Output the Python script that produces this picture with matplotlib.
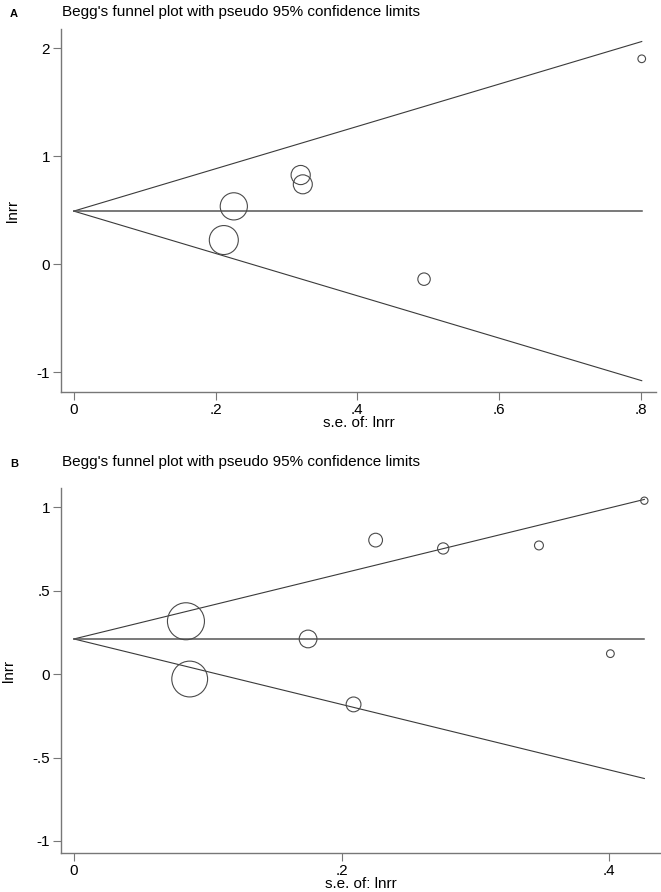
import matplotlib
matplotlib.use("Agg")
import matplotlib.pyplot as plt
import numpy as np

plt.rcParams['font.family'] = ['Liberation Sans', 'DejaVu Sans']

# Panel A: standard errors and log risk ratios
se_a = [0.2116, 0.2257, 0.320, 0.323, 0.494, 0.801]
lnrr_a = [0.222, 0.534, 0.824, 0.738, -0.14, 1.90]
pooled_a = 0.49

# Panel B
se_b = [0.0837, 0.0865, 0.175, 0.209, 0.2255, 0.276, 0.3476, 0.401, 0.4264]
lnrr_b = [0.316, -0.03, 0.21, -0.182, 0.802, 0.752, 0.77, 0.122, 1.038]
pooled_b = 0.21

title = "Begg's funnel plot with pseudo 95% confidence limits"

fig = plt.figure(figsize=(6.61, 8.92), dpi=100)


def funnel(ax, se, y, pooled, rmax, xlim, ylim, xticks, xlabels, yticks, ylabels):
    se = np.array(se)
    y = np.array(y)
    smax = se.max()
    line_c = '#3a3a3a'
    xs = np.array([0, smax])
    ax.plot(xs, pooled + 1.96 * xs, color=line_c, lw=0.8)
    ax.plot(xs, pooled - 1.96 * xs, color=line_c, lw=0.8)
    ax.plot(xs, [pooled, pooled], color='#555555', lw=1.1)
    # marker area proportional to weight 1/se^2 (Stata style)
    w = 1 / se ** 2
    r_px = rmax * np.sqrt(w / w.max())
    d_pt = 2 * r_px * 72 / 100
    ax.scatter(se, y, s=d_pt ** 2, facecolors='none', edgecolors='#4a4a4a',
               linewidths=0.8, zorder=3)
    ax.set_xlim(*xlim)
    ax.set_ylim(*ylim)
    ax.set_xticks(xticks)
    ax.set_xticklabels(xlabels)
    ax.set_yticks(yticks)
    ax.set_yticklabels(ylabels)
    for s in ['top', 'right']:
        ax.spines[s].set_visible(False)
    for s in ['left', 'bottom']:
        ax.spines[s].set_color('#777777')
        ax.spines[s].set_linewidth(1.0)
    ax.tick_params(direction='out', length=6, width=0.8, color='#777777',
                   labelsize=11, pad=2)
    ax.set_xlabel('s.e. of: lnrr', fontsize=11, labelpad=-1)
    ax.set_ylabel('lnrr', fontsize=11, labelpad=12)


axA = fig.add_axes([0.0923, 0.5605, 0.900, 0.407])
funnel(axA, se_a, lnrr_a, pooled_a, 14.5, (-0.018, 0.821), (-1.185, 2.176),
       [0, 0.2, 0.4, 0.6, 0.8], ['0', '.2', '.4', '.6', '.8'],
       [-1, 0, 1, 2], ['-1', '0', '1', '2'])

axB = fig.add_axes([0.0923, 0.0437, 0.906, 0.4092])
funnel(axB, se_b, lnrr_b, pooled_b, 18.5, (-0.0097, 0.438), (-1.072, 1.114),
       [0, 0.2, 0.4], ['0', '.2', '.4'],
       [-1, -0.5, 0, 0.5, 1], ['-1', '-.5', '0', '.5', '1'])

fig.text(62 / 661, 1 - 12 / 892, title, fontsize=11, va='center', ha='left')
fig.text(10 / 661, 1 - 14 / 892, 'A', fontsize=8, fontweight='bold', va='center')
fig.text(62 / 661, 1 - 462 / 892, title, fontsize=11, va='center', ha='left')
fig.text(10 / 661, 1 - 464 / 892, 'B', fontsize=8, fontweight='bold', va='center')

fig.savefig('out.png', dpi=100)
